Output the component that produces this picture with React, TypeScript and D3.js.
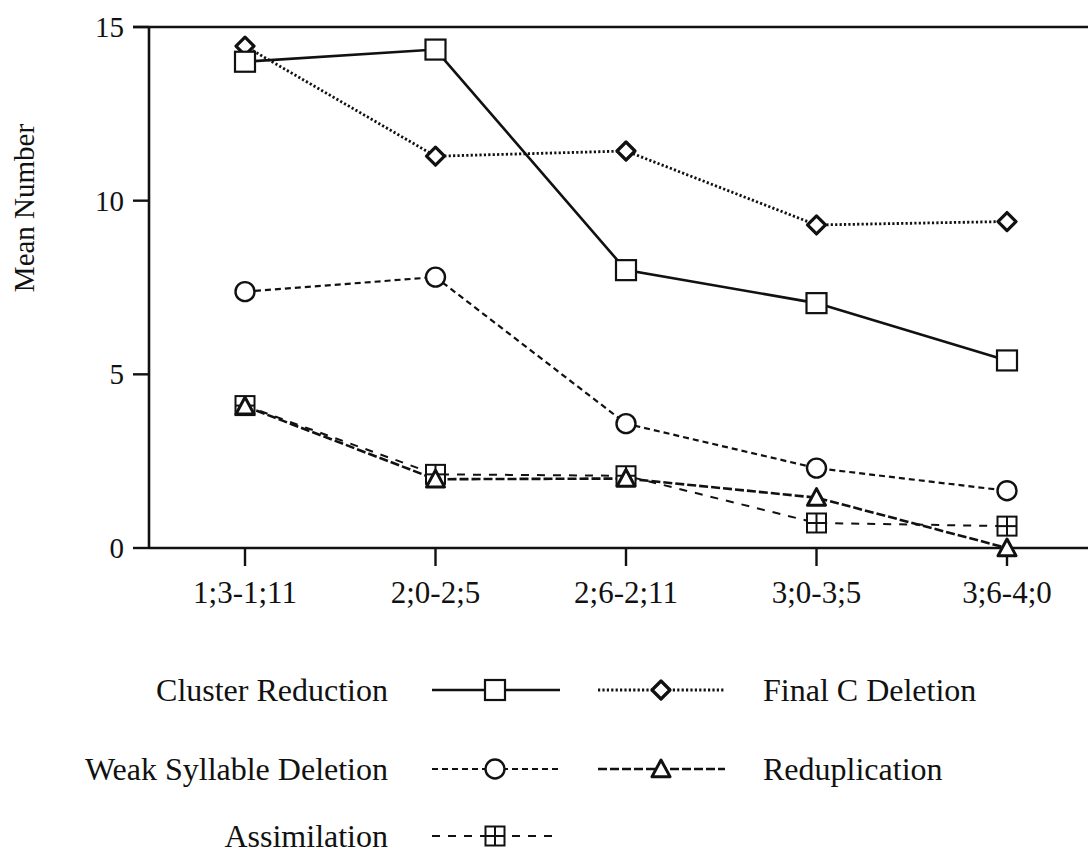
import React from "react";
import * as d3 from "d3";

const categories = ["1;3-1;11", "2;0-2;5", "2;6-2;11", "3;0-3;5", "3;6-4;0"];
const clusterReduction = [14.0, 14.35, 8.0, 7.05, 5.4];
const finalCDeletion = [14.45, 11.28, 11.43, 9.3, 9.4];
const weakSyllableDeletion = [7.38, 7.8, 3.58, 2.3, 1.65];
const reduplication = [4.08, 1.98, 2.0, 1.45, 0.0];
const assimilation = [4.1, 2.12, 2.08, 0.72, 0.63];
const yTicks = [0, 5, 10, 15];

type Marker = "square" | "diamond" | "circle" | "triangle" | "squarePlus";

const seriesList: { name: string; values: number[]; marker: Marker; dash: string; width: number }[] = [
  { name: "Cluster Reduction", values: clusterReduction, marker: "square", dash: "none", width: 2.6 },
  { name: "Final C Deletion", values: finalCDeletion, marker: "diamond", dash: "2.2,2.2", width: 2.8 },
  { name: "Weak Syllable Deletion", values: weakSyllableDeletion, marker: "circle", dash: "6,4", width: 2.2 },
  { name: "Reduplication", values: reduplication, marker: "triangle", dash: "9,3", width: 2.6 },
  { name: "Assimilation", values: assimilation, marker: "squarePlus", dash: "8,8", width: 2 },
];

const FONT = "'Liberation Serif', 'Times New Roman', serif";

function MarkerShape({ type, x, y }: { type: Marker; x: number; y: number }) {
  const s = 10;
  if (type === "square")
    return <rect x={x - s} y={y - s} width={2 * s} height={2 * s} fill="#fff" stroke="#111" strokeWidth={2.2} />;
  if (type === "diamond") {
    const d = 9;
    return (
      <path d={`M${x},${y - d}L${x + d},${y}L${x},${y + d}L${x - d},${y}Z`} fill="#fff" stroke="#111" strokeWidth={3.2} strokeLinejoin="round" />
    );
  }
  if (type === "circle") return <circle cx={x} cy={y} r={9.5} fill="#fff" stroke="#111" strokeWidth={2.4} />;
  if (type === "triangle") {
    const h = 9;
    return (
      <path d={`M${x},${y - h}L${x + h},${y + h * 0.85}L${x - h},${y + h * 0.85}Z`} fill="#fff" stroke="#111" strokeWidth={3} strokeLinejoin="round" />
    );
  }
  return (
    <g fill="none" stroke="#111" strokeWidth={2}>
      <rect x={x - 9.5} y={y - 9.5} width={19} height={19} fill="#fff" />
      <line x1={x} y1={y - 9.5} x2={x} y2={y + 9.5} />
      <line x1={x - 9.5} y1={y} x2={x + 9.5} y2={y} />
    </g>
  );
}

export default function App() {
  const W = 1088;
  const H = 857;
  const x = d3.scalePoint<string>().domain(categories).range([245, 1007]);
  const y = d3.scaleLinear().domain([0, 15]).range([548, 27]);
  const line = d3
    .line<number>()
    .x((_, i) => x(categories[i]) as number)
    .y((d) => y(d));

  const legendRows = [
    { left: seriesList[0], right: seriesList[1], cy: 690 },
    { left: seriesList[2], right: seriesList[3], cy: 769 },
    { left: seriesList[4], right: null, cy: 836 },
  ];

  const drawOrder = [seriesList[4], seriesList[3], seriesList[2], seriesList[1], seriesList[0]];

  return (
    <svg width={W} height={H} style={{ position: "absolute", left: 0, top: 0, background: "#fff" }} fontFamily={FONT}>
      <rect width={W} height={H} fill="#fff" />
      <line x1={133} y1={y(15)} x2={W} y2={y(15)} stroke="#111" strokeWidth={2.6} />
      <line x1={149} y1={y(0)} x2={W} y2={y(0)} stroke="#111" strokeWidth={2.6} />
      <line x1={149} y1={y(15)} x2={149} y2={y(0)} stroke="#111" strokeWidth={2.6} />
      {yTicks.map((t) => (
        <g key={t}>
          <line x1={133} y1={y(t)} x2={149} y2={y(t)} stroke="#111" strokeWidth={2.4} />
          <text x={124} y={y(t)} dy="0.34em" textAnchor="end" fontSize={29} fill="#111">
            {t}
          </text>
        </g>
      ))}
      {categories.map((c) => (
        <g key={c}>
          <line x1={x(c)} y1={y(0)} x2={x(c)} y2={y(0) + 18} stroke="#111" strokeWidth={2.4} />
          <text x={x(c)} y={603} textAnchor="middle" fontSize={31} fill="#111">
            {c}
          </text>
        </g>
      ))}
      <text transform={`translate(34,208) rotate(-90)`} textAnchor="middle" fontSize={29} fill="#111">
        Mean Number
      </text>

      {drawOrder.map((s) => (
        <path key={s.name} d={line(s.values) || ""} fill="none" stroke="#111" strokeWidth={s.width} strokeDasharray={s.dash} />
      ))}
      {drawOrder.map((s) =>
        s.values.map((v, i) => <MarkerShape key={s.name + i} type={s.marker} x={x(categories[i]) as number} y={y(v)} />)
      )}

      {legendRows.map((r) => (
        <g key={r.cy}>
          <text x={388} y={r.cy} dy="0.34em" textAnchor="end" fontSize={32} fill="#111">
            {r.left.name}
          </text>
          <line x1={432} y1={r.cy} x2={560} y2={r.cy} stroke="#111" strokeWidth={r.left.width} strokeDasharray={r.left.dash} />
          <MarkerShape type={r.left.marker} x={495} y={r.cy} />
          {r.right && (
            <g>
              <line x1={598} y1={r.cy} x2={725} y2={r.cy} stroke="#111" strokeWidth={r.right.width} strokeDasharray={r.right.dash} />
              <MarkerShape type={r.right.marker} x={661} y={r.cy} />
              <text x={763} y={r.cy} dy="0.34em" textAnchor="start" fontSize={32} fill="#111">
                {r.right.name}
              </text>
            </g>
          )}
        </g>
      ))}
    </svg>
  );
}
